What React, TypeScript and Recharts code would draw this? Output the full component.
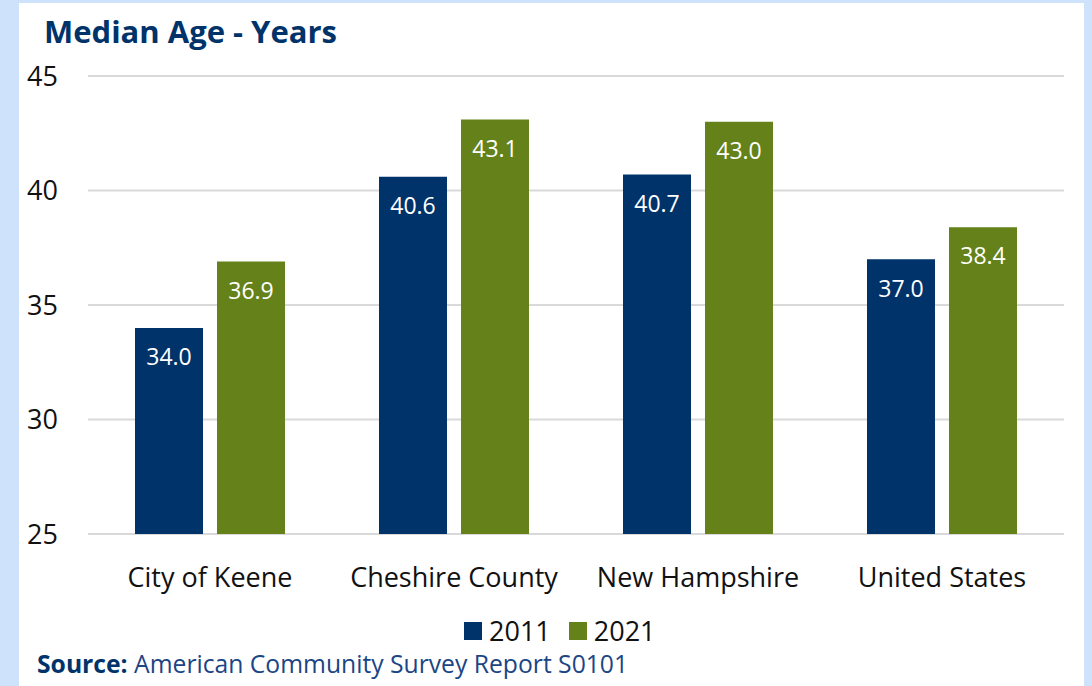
import { BarChart, Bar, XAxis, YAxis, CartesianGrid, Legend, LabelList } from "recharts";

const categories = ["City of Keene", "Cheshire County", "New Hampshire", "United States"];
const values2011 = [34.0, 40.6, 40.7, 37.0];
const values2021 = [36.9, 43.1, 43.0, 38.4];
const yTicks = [25, 30, 35, 40, 45];

const BLUE = "#00336A";
const GREEN = "#648219";
const FONT = "'Open Sans', 'Noto Sans', sans-serif";

const data = categories.map((name, i) => ({
  name,
  y2011: values2011[i],
  y2021: values2021[i],
}));

const renderLegend = (props: any) => {
  const { payload } = props;
  return (
    <div style={{ display: "flex", gap: 18, fontFamily: FONT, fontSize: 27, color: "#111", lineHeight: "34px" }}>
      {(payload || []).map((p: any) => (
        <div key={p.value} style={{ display: "flex", alignItems: "center", gap: 7 }}>
          <span style={{ display: "inline-block", width: 18, height: 18, background: p.color }} />
          <span>{p.value}</span>
        </div>
      ))}
    </div>
  );
};

export default function App() {
  return (
    <div
      style={{
        position: "absolute",
        left: 0,
        top: 0,
        width: 1092,
        height: 686,
        background: "#CFE2FC",
        overflow: "hidden",
      }}
    >
      <div
        style={{
          position: "absolute",
          left: 19,
          top: 3,
          width: 1065,
          height: 683,
          background: "#fff",
        }}
      />
      <div
        style={{
          position: "absolute",
          left: 44,
          top: 11,
          fontFamily: FONT,
          fontWeight: 700,
          fontSize: 31,
          color: BLUE,
          whiteSpace: "nowrap",
          lineHeight: "40px",
        }}
      >
        Median Age - Years
      </div>
      <div style={{ position: "absolute", left: 0, top: 0 }}>
        <BarChart
          width={1092}
          height={686}
          data={data}
          margin={{ top: 76, right: 28, bottom: 88, left: 28 }}
          barSize={68}
          barGap={14}
        >
          <CartesianGrid vertical={false} stroke="#D9D9D9" strokeWidth={2} />
          <XAxis
            dataKey="name"
            axisLine={false}
            tickLine={false}
            tickSize={0}
            tickMargin={34}
            tick={{ fill: "#111", fontSize: 27, fontFamily: FONT }}
          />
          <YAxis
            width={60}
            domain={[25, 45]}
            ticks={yTicks}
            axisLine={false}
            tickLine={false}
            tickSize={0}
            tickMargin={30}
            tick={{ fill: "#111", fontSize: 27, fontFamily: FONT }}
          />
          <Legend
            content={renderLegend}
            wrapperStyle={{ position: "absolute", top: 614, left: 464, width: "auto" }}
          />
          <Bar dataKey="y2011" name="2011" fill={BLUE} isAnimationActive={false}>
            <LabelList
              dataKey="y2011"
              position="insideTop"
              offset={21}
              fill="#fff"
              fontSize={23}
              fontFamily={FONT}
              formatter={(v: any) => Number(v).toFixed(1)}
            />
          </Bar>
          <Bar dataKey="y2021" name="2021" fill={GREEN} isAnimationActive={false}>
            <LabelList
              dataKey="y2021"
              position="insideTop"
              offset={21}
              fill="#fff"
              fontSize={23}
              fontFamily={FONT}
              formatter={(v: any) => Number(v).toFixed(1)}
            />
          </Bar>
        </BarChart>
      </div>
      <div
        style={{
          position: "absolute",
          left: 37,
          top: 648,
          fontFamily: FONT,
          fontSize: 24.7,
          color: "#1B4585",
          whiteSpace: "nowrap",
          lineHeight: "32px",
        }}
      >
        <b style={{ color: BLUE }}>Source:</b> American Community Survey Report S0101
      </div>
    </div>
  );
}
